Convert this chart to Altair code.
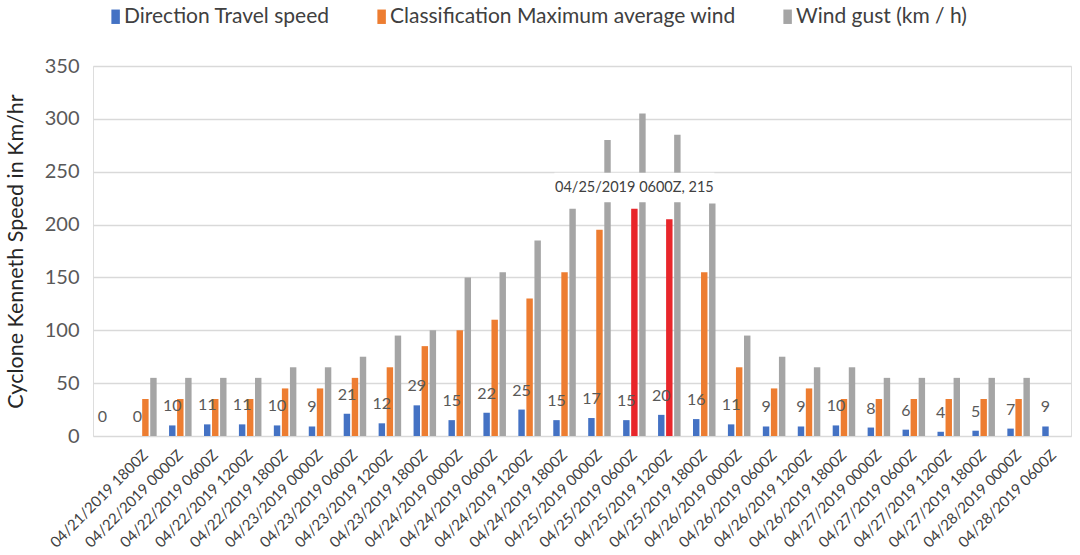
import altair as alt
import pandas as pd

# Six-hourly fixes for Cyclone Kenneth (first slot has no timestamp)
categories = [
    " ",
    "04/21/2019 1800Z", "04/22/2019 0000Z", "04/22/2019 0600Z", "04/22/2019 1200Z",
    "04/22/2019 1800Z", "04/23/2019 0000Z", "04/23/2019 0600Z", "04/23/2019 1200Z",
    "04/23/2019 1800Z", "04/24/2019 0000Z", "04/24/2019 0600Z", "04/24/2019 1200Z",
    "04/24/2019 1800Z", "04/25/2019 0000Z", "04/25/2019 0600Z", "04/25/2019 1200Z",
    "04/25/2019 1800Z", "04/26/2019 0000Z", "04/26/2019 0600Z", "04/26/2019 1200Z",
    "04/26/2019 1800Z", "04/27/2019 0000Z", "04/27/2019 0600Z", "04/27/2019 1200Z",
    "04/27/2019 1800Z", "04/28/2019 0000Z", "04/28/2019 0600Z",
]
travel_speed = [0, 0, 10, 11, 11, 10, 9, 21, 12, 29, 15, 22, 25, 15, 17, 15,
                20, 16, 11, 9, 9, 10, 8, 6, 4, 5, 7, 9]
max_avg_wind = [None, 35, 35, 35, 35, 45, 45, 55, 65, 85, 100, 110, 130, 155,
                195, 215, 205, 155, 65, 45, 45, 35, 35, 35, 35, 35, 35, None]
wind_gust = [None, 55, 55, 55, 55, 65, 65, 75, 95, 100, 150, 155, 185, 215,
             280, 305, 285, 220, 95, 75, 65, 65, 55, 55, 55, 55, 55, None]

series_names = [
    "Direction Travel speed",
    "Classification Maximum average wind",
    "Wind gust (km / h)",
]
series_colors = ["#4472C4", "#ED7D31", "#A5A5A5"]
peak_color = "#E8262B"
peak_times = ["04/25/2019 0600Z", "04/25/2019 1200Z"]
callout_time = "04/25/2019 0600Z"

rows = []
for i, t in enumerate(categories):
    for name, vals in zip(series_names, [travel_speed, max_avg_wind, wind_gust]):
        v = vals[i]
        if v is None:
            continue
        rows.append({
            "time": t,
            "series": name,
            "value": v,
            "peak": name == series_names[1] and t in peak_times,
        })
df = pd.DataFrame(rows)

FONT = "Lato"
TEXT_DARK = "#404040"

x_enc = alt.X(
    "time:N",
    sort=categories,
    scale=alt.Scale(domain=categories, paddingInner=0.355, paddingOuter=0.1775),
    axis=alt.Axis(
        title=None, labelAngle=-45, labelAlign="right", labelBaseline="middle",
        labelFontSize=15, labelColor=TEXT_DARK, labelFont=FONT, labelPadding=16,
        ticks=False, domain=False, grid=False, labelOverlap=False,
    ),
)
xoff_enc = alt.XOffset(
    "series:N", sort=series_names,
    scale=alt.Scale(domain=series_names, paddingInner=0.2, paddingOuter=0),
)
y_enc = alt.Y(
    "value:Q",
    scale=alt.Scale(domain=[0, 350]),
    axis=alt.Axis(
        title="Cyclone Kenneth Speed in Km/hr", titleFontSize=21.5, titleFont=FONT,
        titleFontWeight="normal", titleColor="#262626", titlePadding=17,
        values=list(range(0, 351, 50)), labelFontSize=20, labelFont=FONT,
        labelColor="#595959", labelPadding=14, ticks=False, domain=False,
        grid=True, gridColor="#D9D9D9", gridWidth=1.3,
    ),
)

bars = alt.Chart(df).mark_bar().encode(
    x=x_enc,
    xOffset=xoff_enc,
    y=y_enc,
    color=alt.condition(
        "datum.peak",
        alt.value(peak_color),
        alt.Color(
            "series:N",
            sort=series_names,
            scale=alt.Scale(domain=series_names, range=series_colors),
            legend=alt.Legend(
                title=None, orient="none", direction="horizontal",
                legendX=10, legendY=-60, labelFontSize=21, labelFont=FONT,
                labelColor=TEXT_DARK, labelLimit=0,
                symbolType="M-0.5,-1.7H1.5V1.7H-0.5Z", symbolSize=72,
                symbolStrokeWidth=0, labelOffset=0, columnPadding=39,
            ),
        ),
    ),
)

# speed labels above the travel-speed bars
speed_labels = alt.Chart(df).transform_filter(
    alt.datum.series == series_names[0]
).mark_text(
    baseline="bottom", dy=-11, fontSize=16, font=FONT, color="#595959"
).encode(
    x=x_enc, xOffset=xoff_enc, y=alt.Y("value:Q"), text=alt.Text("value:Q")
)

# callout for the peak sustained wind
callout_base = alt.Chart(df).transform_filter(
    (alt.datum.series == series_names[1]) & (alt.datum.time == callout_time)
).transform_calculate(
    label="datum.time + ', ' + datum.value",
    box_lo="datum.value + 6",
    box_hi="datum.value + 34",
    text_y="datum.value + 20",
)
callout_box = callout_base.mark_bar(color="white", width=160).encode(
    x=x_enc, y=alt.Y("box_lo:Q"), y2="box_hi:Q"
)
callout_text = callout_base.mark_text(
    fontSize=14.5, font=FONT, color=TEXT_DARK, baseline="middle", align="center"
).encode(x=x_enc, y=alt.Y("text_y:Q"), text="label:N")

chart = alt.layer(bars, callout_box, callout_text, speed_labels).properties(
    width=978,
    height=370,
    autosize=alt.AutoSizeParams(type="none"),
    padding={"left": 93, "top": 66, "right": 9, "bottom": 119},
).configure_view(stroke=None).configure(background="white")

chart.save("out.html", embed_options={"renderer": "svg", "actions": False})
